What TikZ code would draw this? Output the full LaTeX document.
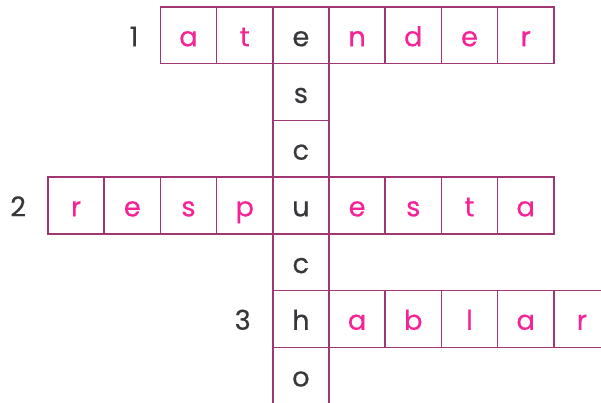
\documentclass[tikz,border=0pt]{standalone}
\usepackage{fontspec}
\setmainfont{Poppins}[FakeBold=0.4]
\usepackage{xcolor}
\usetikzlibrary{positioning}
\definecolor{gridline}{RGB}{160,55,115}
\definecolor{answerpink}{RGB}{245,35,150}
\definecolor{inkgray}{RGB}{55,55,60}

\begin{document}
\begin{tikzpicture}[x=1.124cm, y=-1.134cm, node distance=0.42cm]
    \tikzstyle{cell} = [rectangle, draw=gridline, line width=0.8pt, minimum width=1.124cm, minimum height=1.134cm, inner sep=0pt, text height=12.4pt, text depth=0pt, font=\fontsize{15.5}{15.5}\selectfont, text=answerpink]
    \tikzstyle{given} = [cell, text=inkgray]
    \tikzstyle{clue} = [inner sep=0pt, text height=12.4pt, text depth=0pt, font=\fontsize{15.5}{15.5}\selectfont, text=inkgray]

    \useasboundingbox (-0.854,-0.1235) rectangle (9.84,6.975);

    % vertical word
    \foreach \ch [count=\r from 0] in {e,s,c,u,c,h,o}
        \node [given] (down\r) at (4.5,\r+0.5) {\ch};

    % across words
    \foreach \c/\ch in {2/a,3/t,5/n,6/d,7/e,8/r}
        \node [cell] (one\c) at (\c+0.5,0.5) {\ch};
    \foreach \c/\ch in {0/r,1/e,2/s,3/p,5/e,6/s,7/t,8/a}
        \node [cell] (two\c) at (\c+0.5,3.5) {\ch};
    \foreach \c/\ch in {5/a,6/b,7/l,8/a,9/r}
        \node [cell] (three\c) at (\c+0.5,5.5) {\ch};

    % clue numbers
    \node [clue, left=of one2] (num1) {1};
    \node [clue, left=of two0] (num2) {2};
    \node [clue, left=of down5] (num3) {3};
\end{tikzpicture}
\end{document}
